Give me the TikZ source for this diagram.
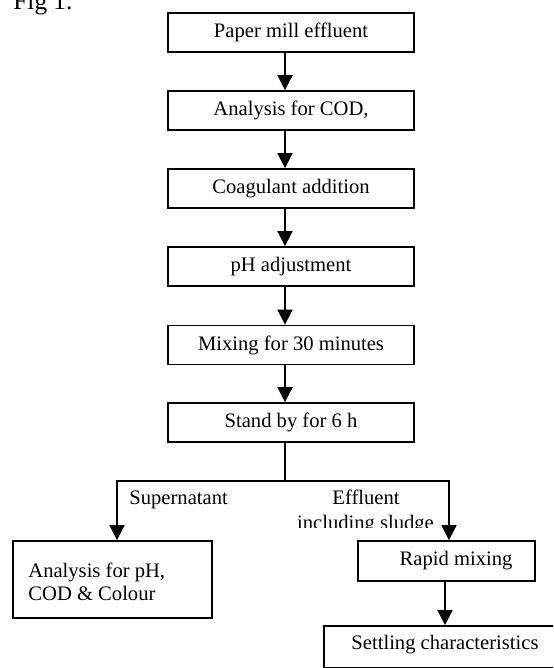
\documentclass[tikz,border=0pt]{standalone}
\usepackage{fontspec}
\setmainfont{Liberation Serif}
\usetikzlibrary{arrows.meta}
\begin{document}
\begin{tikzpicture}[x=0.5pt,y=-0.5pt,
  boxshape/.style={draw, line width=0.9pt, inner sep=0pt, font=\fontsize{10.3}{12.5}\selectfont},
  mainbox/.style={boxshape, minimum width=123pt, minimum height=19.5pt},
  txt/.style={inner sep=0pt, font=\fontsize{10.3}{11.2}\selectfont},
  arr/.style={-{Triangle[length=7.5pt,width=7.5pt]}, line width=0.9pt},
  conn/.style={line width=0.9pt}]
\path[use as bounding box] (0,0) rectangle (553,668);
\clip (0,0) rectangle (553,668);
\node[txt, font=\fontsize{12.65}{14}\selectfont, anchor=base west] (fig) at (13,10) {Fig 1.};
\node[mainbox] (b1) at (291,32.5) {Paper mill effluent};
\node[mainbox] (b2) at (291,110.5) {Analysis for COD,};
\node[mainbox] (b3) at (291,188.5) {Coagulant addition};
\node[mainbox] (b4) at (291,266.5) {pH adjustment};
\node[mainbox] (b5) at (291,345) {Mixing for 30 minutes};
\node[mainbox] (b6) at (291,422.5) {Stand by for 6 h};
\coordinate (a) at (285,0);
\draw[arr] (b1.south -| a) -- (b2.north -| a);
\draw[arr] (b2.south -| a) -- (b3.north -| a);
\draw[arr] (b3.south -| a) -- (b4.north -| a);
\draw[arr] (b4.south -| a) -- (b5.north -| a);
\draw[arr] (b5.south -| a) -- (b6.north -| a);
% bottom boxes
\node[boxshape, minimum width=99.5pt, minimum height=38.5pt] (lbox) at (112.5,579.5) {};
\node[txt, align=left, anchor=west] (ltxt) at (28,582) {Analysis for pH,\\COD \& Colour};
\node[boxshape, minimum width=88.5pt, minimum height=20pt] (rbox) at (446.5,561) {};
\node[txt] (rtxt) at (456,561) {Rapid mixing};
\node[boxshape, minimum width=138pt, minimum height=21pt] (sbox) at (462,647) {};
\node[txt] (stxt) at (445,645) {Settling characteristics};
% branch
\coordinate (j) at (285,481);
\coordinate (cl) at (117,481);
\coordinate (cr) at (449,481);
\coordinate (rs) at (445,0);
\draw[conn] (b6.south -| j) -- (j);
\draw[arr] (j) -| (lbox.north -| cl);
\draw[arr] (j) -| (rbox.north -| cr);
\draw[arr] (rbox.south -| rs) -- (sbox.north -| rs);
% labels
\node[txt, anchor=base west] (sup) at (129,504) {Supernatant};
\node[txt, anchor=base] (eff) at (366,504) {Effluent};
\begin{scope}
\clip (280,506) rectangle (470,527);
\node[txt, anchor=base] (incl) at (365.5,529.5) {including sludge};
\end{scope}
\end{tikzpicture}
\end{document}
